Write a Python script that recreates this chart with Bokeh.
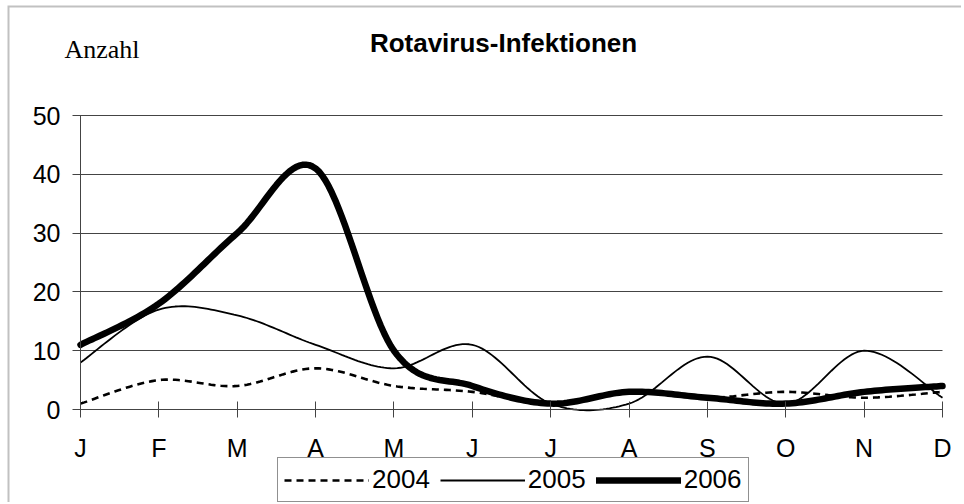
from bokeh.plotting import figure
from bokeh.models import Legend, LegendItem, Label, FixedTicker, Range1d, Grid, BoxAnnotation
from bokeh.embed import file_html
from bokeh.resources import INLINE

months = ["J", "F", "M", "A", "M", "J", "J", "A", "S", "O", "N", "D"]
y2004 = [1, 5, 4, 7, 4, 3, 1, 3, 2, 3, 2, 3]
y2005 = [8, 17, 16, 11, 7, 11, 1, 1, 9, 1, 10, 2]
y2006 = [11, 18, 30, 41, 10, 4, 1, 3, 2, 1, 3, 4]
y_ticks = [0, 10, 20, 30, 40, 50]
series_names = ["2004", "2005", "2006"]


def smooth(ys, n=24):
    """Excel-like smoothed line (Catmull-Rom converted to cubic Bezier)."""
    P = [(float(i), float(v)) for i, v in enumerate(ys)]
    outx, outy = [], []
    m = len(P)
    for i in range(m - 1):
        p0 = P[i - 1] if i > 0 else P[i]
        p1 = P[i]
        p2 = P[i + 1]
        p3 = P[i + 2] if i + 2 < m else P[i + 1]
        c1 = (p1[0] + (p2[0] - p0[0]) / 6, p1[1] + (p2[1] - p0[1]) / 6)
        c2 = (p2[0] - (p3[0] - p1[0]) / 6, p2[1] - (p3[1] - p1[1]) / 6)
        last = (i == m - 2)
        for k in range(n + (1 if last else 0)):
            t = k / n
            a = (1 - t) ** 3
            b = 3 * (1 - t) ** 2 * t
            c = 3 * (1 - t) * t ** 2
            d = t ** 3
            outx.append(a * p1[0] + b * c1[0] + c * c2[0] + d * p2[0])
            outy.append(a * p1[1] + b * c1[1] + c * c2[1] + d * p2[1])
    return outx, outy


# ---- layout (canvas pixels, canvas placed at page offset 7,5) ----
W, H = 954, 497
PX_LEFT, PX_RIGHT = 73, 935     # x positions of first / last month
PX_TOP, PX_BOTTOM = 110, 404    # y positions of 50 / 0 (from top)
n_m = len(months) - 1
ymax = y_ticks[-1]
xs = (PX_RIGHT - PX_LEFT) / n_m
ys_ = (PX_BOTTOM - PX_TOP) / ymax
x_range = Range1d(-PX_LEFT / xs, n_m + (W - PX_RIGHT) / xs)
y_range = Range1d(-(H - PX_BOTTOM) / ys_, ymax + PX_TOP / ys_)

p = figure(width=W, height=H, output_backend="svg", toolbar_location=None,
           x_range=x_range, y_range=y_range, min_border=0,
           min_border_left=0, min_border_right=0, min_border_top=0, min_border_bottom=0)
p.title_location = None
p.outline_line_color = None
p.background_fill_color = "white"
p.border_fill_color = "white"
p.styles = {"margin-top": "5px", "margin-left": "7px", "overflow": "hidden"}

FONT = "Liberation Sans"

# chart border (only top and left edges lie inside the window)
frame_border = BoxAnnotation(right=x_range.end + 1, bottom=y_range.start - 5,
                             fill_alpha=0, line_color="#333333", line_width=4)
p.add_layout(frame_border)

# axes, drawn at data 0 inside the frame
p.xaxis.ticker = FixedTicker(ticks=list(range(len(months))))
p.xaxis.major_label_overrides = {i: m for i, m in enumerate(months)}
p.yaxis.ticker = FixedTicker(ticks=y_ticks)
p.xaxis.fixed_location = 0
p.yaxis.fixed_location = 0
p.xaxis.bounds = (0, n_m)
p.yaxis.bounds = (0, ymax)
for ax in (p.xaxis, p.yaxis):
    ax.major_tick_in = 8
    ax.major_tick_out = 8
    ax.minor_tick_line_color = None
    ax.axis_line_color = "#444444"
    ax.major_tick_line_color = "#444444"
    ax.major_label_text_font = FONT
    ax.major_label_text_font_size = "25px"
    ax.major_label_text_color = "black"
p.xaxis.major_label_standoff = 16
p.yaxis.major_label_standoff = 12

p.xgrid.grid_line_color = None
p.ygrid.grid_line_color = "#444444"
p.ygrid.grid_line_width = 1
if "cross_bounds" in Grid.properties():
    p.ygrid.cross_bounds = (0, n_m)
    p.ygrid.bounds = (0, ymax)
else:
    p.ygrid.grid_line_color = None
    p.segment(x0=[0] * len(y_ticks), x1=[n_m] * len(y_ticks), y0=y_ticks, y1=y_ticks,
              line_color="#444444", line_width=1)

x4, s4 = smooth(y2004)
x5, s5 = smooth(y2005)
x6, s6 = smooth(y2006)
r4 = p.line(x4, s4, line_color="black", line_width=2.6, line_dash="7 5")
r5 = p.line(x5, s5, line_color="black", line_width=1.8)
r6 = p.line(x6, s6, line_color="black", line_width=6.5, line_cap="round", line_join="round")

legend = Legend(items=[LegendItem(label=series_names[0], renderers=[r4]),
                       LegendItem(label=series_names[1], renderers=[r5]),
                       LegendItem(label=series_names[2], renderers=[r6])],
                orientation="horizontal", location=(270, 0),
                glyph_width=85, glyph_height=26, label_standoff=3, spacing=10,
                padding=6, margin=0,
                label_text_font=FONT, label_text_font_size="26px",
                label_text_color="black",
                border_line_color="#222222", border_line_width=1,
                background_fill_color="white", background_fill_alpha=1)
p.add_layout(legend, "center")

# screen coordinates: origin at bottom-left of the frame (= canvas)
title = Label(x=496, y=H - 22, x_units="screen", y_units="screen",
              text="Rotavirus-Infektionen", text_font=FONT, text_font_style="bold",
              text_font_size="26px", text_color="black",
              text_align="center", text_baseline="top")
p.add_layout(title)
anz = Label(x=57, y=H - 29, x_units="screen", y_units="screen",
            text="Anzahl", text_font="Liberation Serif", text_font_size="26px",
            text_color="black", text_align="left", text_baseline="top")
p.add_layout(anz)

open("out.html", "w").write(file_html(p, INLINE))
